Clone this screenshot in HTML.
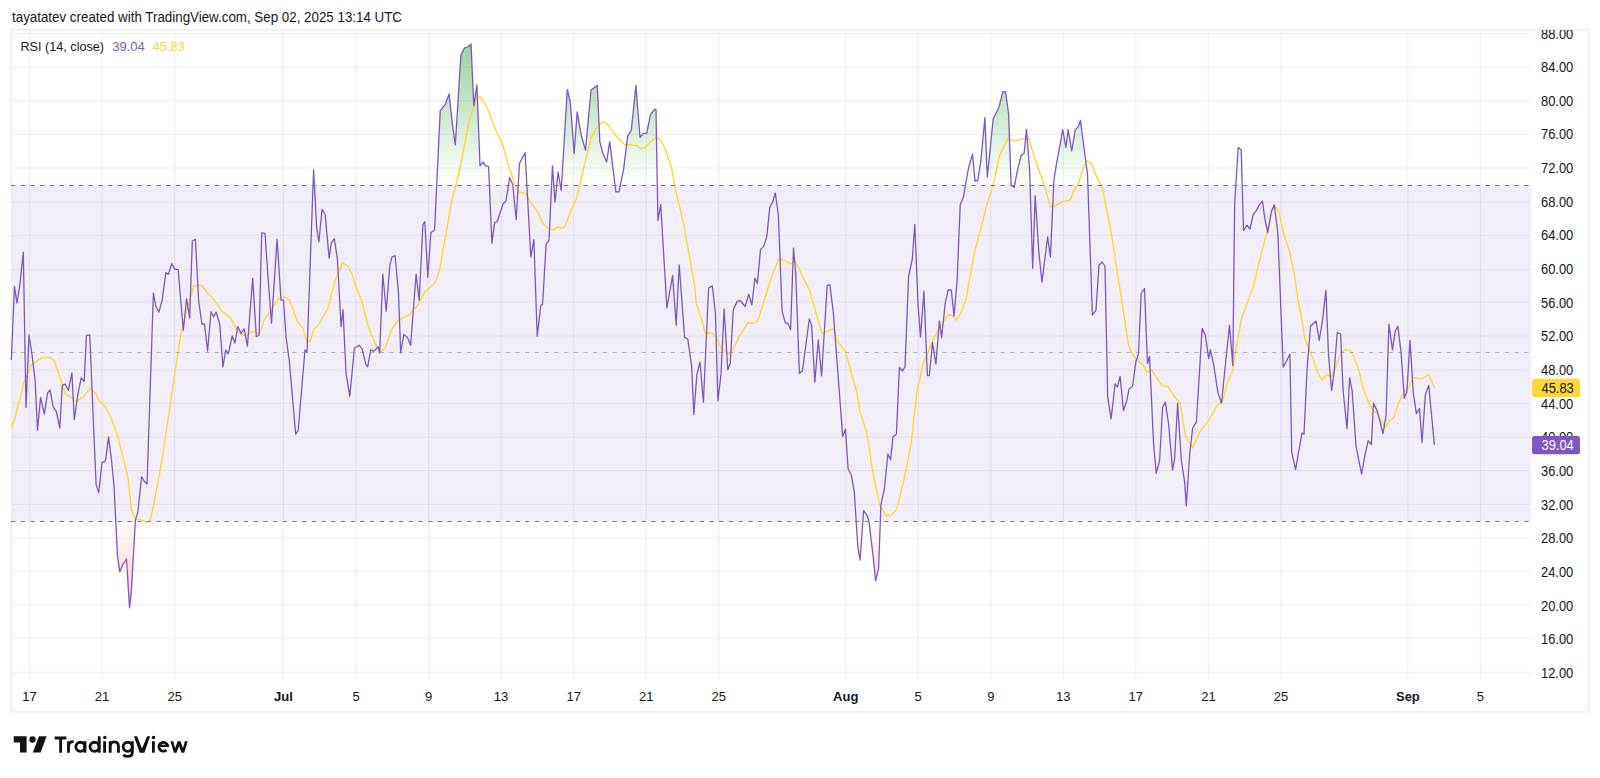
<!DOCTYPE html>
<html><head><meta charset="utf-8"><style>
html,body{margin:0;padding:0;background:#fff;}
body{width:1600px;height:778px;position:relative;overflow:hidden;font-family:"Liberation Sans",sans-serif;}
.hdr{position:absolute;left:12px;top:8px;font-size:13px;color:#131722;white-space:nowrap;}
.leg{position:absolute;left:20px;top:38px;font-size:13px;color:#131722;white-space:nowrap;}
.ax{font-family:"Liberation Sans",sans-serif;font-size:13.8px;fill:#131722;}
.tx{font-family:"Liberation Sans",sans-serif;font-size:13px;fill:#131722;}
.bold{font-weight:bold;}
.logo{position:absolute;left:0;top:0;}
</style></head><body>
<svg width="1600" height="778" viewBox="0 0 1600 778" style="position:absolute;left:0;top:0">
<rect x="12" y="184.5" width="1519" height="336.5" fill="#F2EEF9"/>
<rect x="12" y="671.70" width="1519" height="1.2" fill="#000" fill-opacity="0.055"/>
<rect x="12" y="637.50" width="1519" height="1.2" fill="#000" fill-opacity="0.055"/>
<rect x="12" y="604.00" width="1519" height="1.2" fill="#000" fill-opacity="0.055"/>
<rect x="12" y="570.60" width="1519" height="1.2" fill="#000" fill-opacity="0.055"/>
<rect x="12" y="537.20" width="1519" height="1.2" fill="#000" fill-opacity="0.055"/>
<rect x="12" y="503.80" width="1519" height="1.2" fill="#000" fill-opacity="0.055"/>
<rect x="12" y="470.00" width="1519" height="1.2" fill="#000" fill-opacity="0.055"/>
<rect x="12" y="436.60" width="1519" height="1.2" fill="#000" fill-opacity="0.055"/>
<rect x="12" y="402.70" width="1519" height="1.2" fill="#000" fill-opacity="0.055"/>
<rect x="12" y="369.10" width="1519" height="1.2" fill="#000" fill-opacity="0.055"/>
<rect x="12" y="335.40" width="1519" height="1.2" fill="#000" fill-opacity="0.055"/>
<rect x="12" y="301.60" width="1519" height="1.2" fill="#000" fill-opacity="0.055"/>
<rect x="12" y="269.20" width="1519" height="1.2" fill="#000" fill-opacity="0.055"/>
<rect x="12" y="235.10" width="1519" height="1.2" fill="#000" fill-opacity="0.055"/>
<rect x="12" y="201.70" width="1519" height="1.2" fill="#000" fill-opacity="0.055"/>
<rect x="12" y="167.40" width="1519" height="1.2" fill="#000" fill-opacity="0.055"/>
<rect x="12" y="133.80" width="1519" height="1.2" fill="#000" fill-opacity="0.055"/>
<rect x="12" y="99.90" width="1519" height="1.2" fill="#000" fill-opacity="0.055"/>
<rect x="12" y="66.70" width="1519" height="1.2" fill="#000" fill-opacity="0.055"/>
<rect x="12" y="32.75" width="1519" height="1.2" fill="#000" fill-opacity="0.055"/>
<rect x="29.00" y="30" width="1.2" height="650.8" fill="#000" fill-opacity="0.055"/>
<rect x="101.54" y="30" width="1.2" height="650.8" fill="#000" fill-opacity="0.055"/>
<rect x="174.08" y="30" width="1.2" height="650.8" fill="#000" fill-opacity="0.055"/>
<rect x="282.89" y="30" width="1.2" height="650.8" fill="#000" fill-opacity="0.055"/>
<rect x="355.43" y="30" width="1.2" height="650.8" fill="#000" fill-opacity="0.055"/>
<rect x="427.97" y="30" width="1.2" height="650.8" fill="#000" fill-opacity="0.055"/>
<rect x="500.51" y="30" width="1.2" height="650.8" fill="#000" fill-opacity="0.055"/>
<rect x="573.05" y="30" width="1.2" height="650.8" fill="#000" fill-opacity="0.055"/>
<rect x="645.59" y="30" width="1.2" height="650.8" fill="#000" fill-opacity="0.055"/>
<rect x="718.13" y="30" width="1.2" height="650.8" fill="#000" fill-opacity="0.055"/>
<rect x="845.08" y="30" width="1.2" height="650.8" fill="#000" fill-opacity="0.055"/>
<rect x="917.62" y="30" width="1.2" height="650.8" fill="#000" fill-opacity="0.055"/>
<rect x="990.16" y="30" width="1.2" height="650.8" fill="#000" fill-opacity="0.055"/>
<rect x="1062.70" y="30" width="1.2" height="650.8" fill="#000" fill-opacity="0.055"/>
<rect x="1135.24" y="30" width="1.2" height="650.8" fill="#000" fill-opacity="0.055"/>
<rect x="1207.78" y="30" width="1.2" height="650.8" fill="#000" fill-opacity="0.055"/>
<rect x="1280.32" y="30" width="1.2" height="650.8" fill="#000" fill-opacity="0.055"/>
<rect x="1407.26" y="30" width="1.2" height="650.8" fill="#000" fill-opacity="0.055"/>
<rect x="1479.80" y="30" width="1.2" height="650.8" fill="#000" fill-opacity="0.055"/>
<rect x="11.6" y="29.8" width="1577.1" height="682.1" fill="none" stroke="#000" stroke-opacity="0.075" stroke-width="1.4"/>
<defs>
<linearGradient id="gG" gradientUnits="userSpaceOnUse" x1="0" y1="-67.9" x2="0" y2="184.5"><stop offset="0" stop-color="#4CAF50" stop-opacity="1"/><stop offset="1" stop-color="#4CAF50" stop-opacity="0"/></linearGradient>
<linearGradient id="gR" gradientUnits="userSpaceOnUse" x1="0" y1="521.0" x2="0" y2="773.3"><stop offset="0" stop-color="#FF5252" stop-opacity="0"/><stop offset="1" stop-color="#FF5252" stop-opacity="1"/></linearGradient>
<clipPath id="cT"><rect x="0" y="0" width="1531" height="184.5"/></clipPath>
<clipPath id="cB"><rect x="0" y="521.0" width="1531" height="159.0"/></clipPath>
</defs>
<path d="M11.3,360.0 L14.5,286.5 L17.0,303.2 L20.0,283.9 L23.3,252.1 L26.0,407.5 L29.0,334.8 L32.1,355.3 L35.1,380.4 L37.5,430.4 L40.6,397.4 L44.3,414.2 L47.6,393.0 L50.1,390.0 L53.1,406.7 L56.4,411.7 L59.8,428.0 L62.3,385.4 L65.1,384.1 L68.4,390.4 L71.9,372.9 L74.3,419.6 L77.7,395.4 L81.2,377.9 L84.2,381.6 L86.4,335.3 L89.7,334.8 L96.1,484.4 L98.7,492.6 L102.0,462.6 L105.6,460.8 L108.5,436.9 L111.5,460.0 L114.1,487.0 L117.5,556.4 L119.8,571.8 L123.1,564.1 L126.5,559.0 L129.5,607.8 L131.3,592.4 L135.4,520.4 L137.8,512.2 L141.6,476.7 L144.2,481.3 L147.0,483.9 L153.4,293.2 L155.9,306.5 L158.9,312.2 L162.2,300.1 L165.8,272.6 L168.4,274.4 L171.7,263.6 L175.1,269.3 L178.1,269.3 L183.3,330.2 L186.6,298.8 L189.7,318.1 L192.3,241.0 L195.4,239.2 L198.7,301.4 L202.0,324.5 L204.4,323.8 L207.6,351.0 L211.0,311.7 L213.6,316.8 L216.2,312.2 L219.8,324.5 L222.9,367.0 L225.7,350.1 L228.3,353.9 L232.2,335.9 L234.9,343.1 L237.8,326.6 L241.1,333.5 L244.2,328.9 L247.4,346.3 L252.7,278.3 L256.3,336.5 L259.1,335.5 L261.7,232.8 L265.0,233.3 L268.1,278.3 L271.5,323.2 L277.1,239.2 L281.0,300.1 L283.5,300.1 L286.1,337.4 L289.3,360.9 L295.7,434.2 L298.2,430.3 L305.0,349.8 L307.0,352.4 L313.6,169.9 L316.7,227.9 L318.9,241.8 L322.0,209.4 L325.1,214.0 L329.1,258.1 L331.2,243.3 L334.3,238.7 L337.4,258.8 L341.1,326.7 L343.0,309.7 L346.0,373.0 L349.8,396.1 L354.4,348.3 L359.0,345.2 L362.1,348.9 L365.8,364.3 L367.7,366.8 L370.7,349.8 L373.8,351.4 L378.1,346.7 L379.7,352.9 L382.8,274.2 L386.2,311.2 L389.9,264.9 L392.0,257.2 L395.1,255.7 L398.5,292.7 L400.7,352.9 L403.8,334.4 L407.5,337.5 L410.6,345.2 L416.1,274.2 L419.2,300.4 L422.9,224.8 L424.8,221.7 L427.8,277.3 L430.9,232.5 L434.6,230.2 L440.2,110.9 L445.4,104.1 L449.1,93.9 L452.2,122.6 L455.3,144.8 L460.9,54.7 L464.6,47.9 L467.7,47.0 L471.0,43.9 L473.8,105.6 L476.9,84.9 L480.0,165.8 L483.1,162.1 L485.6,165.8 L488.6,166.4 L491.9,243.4 L494.5,223.1 L497.3,221.2 L503.1,203.9 L506.0,201.0 L509.6,177.5 L512.7,184.3 L516.2,219.5 L519.5,163.3 L525.1,152.8 L530.8,256.8 L533.9,239.7 L537.2,336.4 L540.7,306.0 L542.6,304.0 L546.1,244.3 L549.0,240.5 L552.5,165.8 L555.0,202.2 L558.1,172.0 L561.2,190.5 L567.3,89.3 L570.4,102.5 L574.1,153.5 L577.2,111.8 L581.2,134.9 L585.5,150.3 L591.0,90.0 L597.3,85.4 L599.8,141.6 L602.9,153.3 L606.6,162.0 L609.7,141.6 L615.9,191.9 L619.0,191.9 L623.6,169.4 L627.6,136.4 L631.3,130.2 L635.9,85.4 L640.0,137.3 L643.6,133.3 L646.7,133.3 L650.4,114.8 L654.4,109.5 L656.0,109.5 L657.9,220.6 L660.7,204.5 L666.9,308.0 L672.6,275.5 L676.2,325.1 L679.2,265.0 L684.6,337.4 L687.7,339.0 L691.7,366.7 L693.8,414.6 L696.9,374.4 L700.0,362.1 L703.4,402.2 L708.6,288.0 L712.3,285.9 L715.4,312.7 L717.9,400.7 L721.0,374.4 L724.1,309.0 L727.8,369.8 L730.2,363.6 L733.3,309.6 L737.0,301.9 L740.1,300.4 L745.1,306.5 L748.8,294.2 L751.9,305.0 L754.9,278.1 L757.4,283.4 L760.5,249.4 L763.6,246.4 L766.7,237.1 L769.8,207.2 L772.8,201.6 L775.3,193.0 L778.4,215.5 L782.1,311.2 L785.2,322.5 L788.1,323.9 L790.6,329.7 L793.5,247.9 L795.7,272.6 L799.4,373.5 L802.5,370.8 L809.3,319.0 L811.7,325.6 L814.8,382.1 L818.3,340.0 L821.6,376.0 L827.2,285.4 L829.9,284.8 L833.4,313.2 L842.7,436.6 L845.5,429.0 L848.1,469.0 L851.3,474.8 L854.3,492.2 L857.8,546.6 L860.1,560.0 L863.6,510.7 L867.0,515.3 L868.9,521.1 L872.8,553.5 L875.6,580.8 L878.6,568.6 L880.9,504.9 L884.4,488.7 L887.9,454.0 L890.6,459.8 L893.0,436.6 L896.4,434.3 L899.4,367.5 L902.5,371.0 L905.0,366.6 L908.6,276.5 L912.3,259.0 L914.8,224.4 L917.9,302.3 L920.5,337.1 L923.9,291.2 L927.4,375.7 L929.3,375.7 L932.5,342.5 L935.9,364.1 L939.4,320.9 L941.6,337.9 L945.2,303.2 L948.2,289.8 L951.3,290.1 L954.0,316.0 L957.1,280.6 L960.2,205.0 L963.3,197.3 L968.5,168.0 L972.5,154.1 L975.0,181.2 L977.8,180.3 L980.9,160.2 L984.9,117.7 L987.3,177.2 L993.2,118.6 L998.8,107.8 L1002.8,91.7 L1005.6,91.7 L1008.6,114.0 L1011.1,184.9 L1014.2,187.4 L1017.3,171.0 L1021.0,155.6 L1024.1,153.5 L1026.5,129.4 L1029.6,169.5 L1032.7,268.3 L1035.2,195.7 L1038.9,252.8 L1042.0,282.2 L1047.6,237.0 L1050.4,257.0 L1053.9,179.9 L1056.7,162.5 L1059.7,146.3 L1062.7,129.6 L1065.9,147.5 L1068.2,129.6 L1071.7,150.9 L1075.2,130.1 L1078.2,126.6 L1080.5,120.4 L1083.5,144.0 L1087.5,174.1 L1092.4,315.2 L1096.0,310.2 L1099.0,265.0 L1102.2,262.0 L1105.0,266.0 L1107.7,397.2 L1111.1,418.9 L1115.1,383.8 L1117.4,387.1 L1120.1,376.4 L1123.5,410.5 L1126.8,400.5 L1129.1,388.8 L1132.5,386.5 L1135.8,362.0 L1138.5,353.7 L1141.2,293.5 L1144.5,288.5 L1147.5,363.7 L1149.5,356.4 L1153.6,444.0 L1156.2,473.4 L1159.6,460.7 L1162.6,407.2 L1165.3,402.2 L1168.6,423.9 L1172.6,470.1 L1174.6,459.0 L1177.6,403.2 L1181.3,460.0 L1184.7,482.4 L1186.3,505.9 L1189.7,454.0 L1192.7,427.9 L1196.4,422.2 L1202.1,328.6 L1205.4,335.3 L1208.7,358.7 L1210.4,349.7 L1213.8,365.4 L1217.8,392.1 L1221.5,403.2 L1225.5,363.7 L1229.5,325.3 L1232.8,365.4 L1234.7,202.5 L1238.2,147.4 L1241.2,149.7 L1243.5,230.7 L1247.0,225.2 L1250.0,229.1 L1253.2,214.5 L1256.3,210.6 L1259.3,204.8 L1262.5,201.3 L1264.8,218.7 L1267.8,232.6 L1271.3,211.8 L1274.3,204.8 L1277.8,232.6 L1283.2,366.9 L1286.6,361.0 L1289.9,354.0 L1291.7,452.2 L1295.6,469.7 L1298.7,451.7 L1302.0,433.0 L1304.0,434.2 L1307.1,368.7 L1310.5,326.3 L1316.1,321.1 L1319.2,340.4 L1322.6,319.8 L1325.9,290.3 L1328.5,354.6 L1331.6,390.5 L1334.1,372.5 L1337.2,332.7 L1340.6,334.0 L1343.1,390.5 L1347.0,428.6 L1349.6,377.7 L1352.1,390.5 L1356.0,445.8 L1361.6,474.1 L1365.0,454.8 L1368.1,440.7 L1371.4,444.5 L1373.5,403.4 L1377.3,411.1 L1383.0,433.7 L1386.1,415.0 L1388.9,324.2 L1392.5,349.9 L1395.3,330.9 L1397.9,326.3 L1401.0,352.0 L1404.3,398.3 L1406.9,391.8 L1410.0,340.4 L1413.3,393.1 L1416.4,413.7 L1419.5,408.5 L1422.0,442.5 L1425.4,394.4 L1428.7,385.4 L1434.4,445.0 L1434.4,352.7 L11.3,352.7 Z" fill="url(#gG)" clip-path="url(#cT)"/>
<path d="M11.3,360.0 L14.5,286.5 L17.0,303.2 L20.0,283.9 L23.3,252.1 L26.0,407.5 L29.0,334.8 L32.1,355.3 L35.1,380.4 L37.5,430.4 L40.6,397.4 L44.3,414.2 L47.6,393.0 L50.1,390.0 L53.1,406.7 L56.4,411.7 L59.8,428.0 L62.3,385.4 L65.1,384.1 L68.4,390.4 L71.9,372.9 L74.3,419.6 L77.7,395.4 L81.2,377.9 L84.2,381.6 L86.4,335.3 L89.7,334.8 L96.1,484.4 L98.7,492.6 L102.0,462.6 L105.6,460.8 L108.5,436.9 L111.5,460.0 L114.1,487.0 L117.5,556.4 L119.8,571.8 L123.1,564.1 L126.5,559.0 L129.5,607.8 L131.3,592.4 L135.4,520.4 L137.8,512.2 L141.6,476.7 L144.2,481.3 L147.0,483.9 L153.4,293.2 L155.9,306.5 L158.9,312.2 L162.2,300.1 L165.8,272.6 L168.4,274.4 L171.7,263.6 L175.1,269.3 L178.1,269.3 L183.3,330.2 L186.6,298.8 L189.7,318.1 L192.3,241.0 L195.4,239.2 L198.7,301.4 L202.0,324.5 L204.4,323.8 L207.6,351.0 L211.0,311.7 L213.6,316.8 L216.2,312.2 L219.8,324.5 L222.9,367.0 L225.7,350.1 L228.3,353.9 L232.2,335.9 L234.9,343.1 L237.8,326.6 L241.1,333.5 L244.2,328.9 L247.4,346.3 L252.7,278.3 L256.3,336.5 L259.1,335.5 L261.7,232.8 L265.0,233.3 L268.1,278.3 L271.5,323.2 L277.1,239.2 L281.0,300.1 L283.5,300.1 L286.1,337.4 L289.3,360.9 L295.7,434.2 L298.2,430.3 L305.0,349.8 L307.0,352.4 L313.6,169.9 L316.7,227.9 L318.9,241.8 L322.0,209.4 L325.1,214.0 L329.1,258.1 L331.2,243.3 L334.3,238.7 L337.4,258.8 L341.1,326.7 L343.0,309.7 L346.0,373.0 L349.8,396.1 L354.4,348.3 L359.0,345.2 L362.1,348.9 L365.8,364.3 L367.7,366.8 L370.7,349.8 L373.8,351.4 L378.1,346.7 L379.7,352.9 L382.8,274.2 L386.2,311.2 L389.9,264.9 L392.0,257.2 L395.1,255.7 L398.5,292.7 L400.7,352.9 L403.8,334.4 L407.5,337.5 L410.6,345.2 L416.1,274.2 L419.2,300.4 L422.9,224.8 L424.8,221.7 L427.8,277.3 L430.9,232.5 L434.6,230.2 L440.2,110.9 L445.4,104.1 L449.1,93.9 L452.2,122.6 L455.3,144.8 L460.9,54.7 L464.6,47.9 L467.7,47.0 L471.0,43.9 L473.8,105.6 L476.9,84.9 L480.0,165.8 L483.1,162.1 L485.6,165.8 L488.6,166.4 L491.9,243.4 L494.5,223.1 L497.3,221.2 L503.1,203.9 L506.0,201.0 L509.6,177.5 L512.7,184.3 L516.2,219.5 L519.5,163.3 L525.1,152.8 L530.8,256.8 L533.9,239.7 L537.2,336.4 L540.7,306.0 L542.6,304.0 L546.1,244.3 L549.0,240.5 L552.5,165.8 L555.0,202.2 L558.1,172.0 L561.2,190.5 L567.3,89.3 L570.4,102.5 L574.1,153.5 L577.2,111.8 L581.2,134.9 L585.5,150.3 L591.0,90.0 L597.3,85.4 L599.8,141.6 L602.9,153.3 L606.6,162.0 L609.7,141.6 L615.9,191.9 L619.0,191.9 L623.6,169.4 L627.6,136.4 L631.3,130.2 L635.9,85.4 L640.0,137.3 L643.6,133.3 L646.7,133.3 L650.4,114.8 L654.4,109.5 L656.0,109.5 L657.9,220.6 L660.7,204.5 L666.9,308.0 L672.6,275.5 L676.2,325.1 L679.2,265.0 L684.6,337.4 L687.7,339.0 L691.7,366.7 L693.8,414.6 L696.9,374.4 L700.0,362.1 L703.4,402.2 L708.6,288.0 L712.3,285.9 L715.4,312.7 L717.9,400.7 L721.0,374.4 L724.1,309.0 L727.8,369.8 L730.2,363.6 L733.3,309.6 L737.0,301.9 L740.1,300.4 L745.1,306.5 L748.8,294.2 L751.9,305.0 L754.9,278.1 L757.4,283.4 L760.5,249.4 L763.6,246.4 L766.7,237.1 L769.8,207.2 L772.8,201.6 L775.3,193.0 L778.4,215.5 L782.1,311.2 L785.2,322.5 L788.1,323.9 L790.6,329.7 L793.5,247.9 L795.7,272.6 L799.4,373.5 L802.5,370.8 L809.3,319.0 L811.7,325.6 L814.8,382.1 L818.3,340.0 L821.6,376.0 L827.2,285.4 L829.9,284.8 L833.4,313.2 L842.7,436.6 L845.5,429.0 L848.1,469.0 L851.3,474.8 L854.3,492.2 L857.8,546.6 L860.1,560.0 L863.6,510.7 L867.0,515.3 L868.9,521.1 L872.8,553.5 L875.6,580.8 L878.6,568.6 L880.9,504.9 L884.4,488.7 L887.9,454.0 L890.6,459.8 L893.0,436.6 L896.4,434.3 L899.4,367.5 L902.5,371.0 L905.0,366.6 L908.6,276.5 L912.3,259.0 L914.8,224.4 L917.9,302.3 L920.5,337.1 L923.9,291.2 L927.4,375.7 L929.3,375.7 L932.5,342.5 L935.9,364.1 L939.4,320.9 L941.6,337.9 L945.2,303.2 L948.2,289.8 L951.3,290.1 L954.0,316.0 L957.1,280.6 L960.2,205.0 L963.3,197.3 L968.5,168.0 L972.5,154.1 L975.0,181.2 L977.8,180.3 L980.9,160.2 L984.9,117.7 L987.3,177.2 L993.2,118.6 L998.8,107.8 L1002.8,91.7 L1005.6,91.7 L1008.6,114.0 L1011.1,184.9 L1014.2,187.4 L1017.3,171.0 L1021.0,155.6 L1024.1,153.5 L1026.5,129.4 L1029.6,169.5 L1032.7,268.3 L1035.2,195.7 L1038.9,252.8 L1042.0,282.2 L1047.6,237.0 L1050.4,257.0 L1053.9,179.9 L1056.7,162.5 L1059.7,146.3 L1062.7,129.6 L1065.9,147.5 L1068.2,129.6 L1071.7,150.9 L1075.2,130.1 L1078.2,126.6 L1080.5,120.4 L1083.5,144.0 L1087.5,174.1 L1092.4,315.2 L1096.0,310.2 L1099.0,265.0 L1102.2,262.0 L1105.0,266.0 L1107.7,397.2 L1111.1,418.9 L1115.1,383.8 L1117.4,387.1 L1120.1,376.4 L1123.5,410.5 L1126.8,400.5 L1129.1,388.8 L1132.5,386.5 L1135.8,362.0 L1138.5,353.7 L1141.2,293.5 L1144.5,288.5 L1147.5,363.7 L1149.5,356.4 L1153.6,444.0 L1156.2,473.4 L1159.6,460.7 L1162.6,407.2 L1165.3,402.2 L1168.6,423.9 L1172.6,470.1 L1174.6,459.0 L1177.6,403.2 L1181.3,460.0 L1184.7,482.4 L1186.3,505.9 L1189.7,454.0 L1192.7,427.9 L1196.4,422.2 L1202.1,328.6 L1205.4,335.3 L1208.7,358.7 L1210.4,349.7 L1213.8,365.4 L1217.8,392.1 L1221.5,403.2 L1225.5,363.7 L1229.5,325.3 L1232.8,365.4 L1234.7,202.5 L1238.2,147.4 L1241.2,149.7 L1243.5,230.7 L1247.0,225.2 L1250.0,229.1 L1253.2,214.5 L1256.3,210.6 L1259.3,204.8 L1262.5,201.3 L1264.8,218.7 L1267.8,232.6 L1271.3,211.8 L1274.3,204.8 L1277.8,232.6 L1283.2,366.9 L1286.6,361.0 L1289.9,354.0 L1291.7,452.2 L1295.6,469.7 L1298.7,451.7 L1302.0,433.0 L1304.0,434.2 L1307.1,368.7 L1310.5,326.3 L1316.1,321.1 L1319.2,340.4 L1322.6,319.8 L1325.9,290.3 L1328.5,354.6 L1331.6,390.5 L1334.1,372.5 L1337.2,332.7 L1340.6,334.0 L1343.1,390.5 L1347.0,428.6 L1349.6,377.7 L1352.1,390.5 L1356.0,445.8 L1361.6,474.1 L1365.0,454.8 L1368.1,440.7 L1371.4,444.5 L1373.5,403.4 L1377.3,411.1 L1383.0,433.7 L1386.1,415.0 L1388.9,324.2 L1392.5,349.9 L1395.3,330.9 L1397.9,326.3 L1401.0,352.0 L1404.3,398.3 L1406.9,391.8 L1410.0,340.4 L1413.3,393.1 L1416.4,413.7 L1419.5,408.5 L1422.0,442.5 L1425.4,394.4 L1428.7,385.4 L1434.4,445.0 L1434.4,352.7 L11.3,352.7 Z" fill="url(#gR)" clip-path="url(#cB)"/>
<path d="M11.3,428.0 L14.5,420.0 L23.8,382.9 L31.3,365.4 L37.6,360.3 L42.6,357.8 L49.6,357.1 L53.9,360.3 L57.6,370.4 L62.6,385.4 L65.6,394.2 L70.2,396.7 L76.4,401.7 L82.7,397.4 L90.2,387.9 L95.2,392.9 L99.0,400.4 L105.2,406.7 L110.8,417.0 L117.5,435.6 L123.1,457.4 L128.3,479.3 L131.3,510.1 L135.4,519.1 L141.1,519.9 L146.8,522.5 L150.1,520.4 L153.4,506.3 L157.0,487.0 L160.1,470.3 L163.5,450.0 L176.9,360.0 L180.7,334.8 L187.1,309.1 L193.6,286.5 L198.7,284.7 L202.6,286.7 L207.7,293.2 L214.1,300.1 L222.4,311.7 L230.8,318.1 L237.3,331.0 L241.1,334.3 L246.3,335.6 L253.2,331.0 L259.1,334.3 L264.3,319.4 L270.7,310.4 L278.4,298.8 L284.8,297.0 L289.2,299.6 L297.7,322.0 L302.8,328.4 L307.2,342.0 L309.6,342.1 L314.3,328.2 L317.3,326.7 L328.1,308.1 L335.2,280.4 L342.7,262.5 L348.2,266.5 L352.8,275.7 L355.9,286.5 L362.1,302.0 L368.3,326.7 L379.1,352.9 L385.2,348.3 L391.4,329.8 L397.6,320.5 L409.9,314.3 L417.7,305.1 L425.4,291.2 L434.6,283.5 L439.3,271.1 L445.4,237.2 L451.6,202.0 L459.6,170.0 L468.6,124.1 L476.3,97.9 L480.0,96.4 L487.1,107.2 L494.8,128.1 L502.5,144.2 L509.6,168.9 L518.0,192.0 L525.7,193.6 L531.9,204.4 L537.8,212.0 L542.6,223.1 L549.4,228.9 L554.2,229.9 L558.0,226.6 L561.9,228.5 L564.8,227.0 L570.6,211.6 L576.6,198.2 L582.8,172.0 L585.0,162.6 L591.2,137.9 L598.0,125.6 L603.5,121.5 L608.1,124.9 L612.8,131.7 L619.0,139.4 L625.1,145.0 L631.3,144.7 L636.9,145.6 L640.6,148.7 L645.2,147.8 L649.8,142.5 L656.0,137.3 L660.6,140.4 L665.2,148.7 L671.4,167.2 L676.0,191.9 L683.8,224.3 L690.1,260.2 L694.6,286.0 L696.3,303.5 L700.9,317.3 L705.6,333.7 L711.7,332.8 L716.4,337.4 L721.0,348.2 L729.6,354.4 L733.3,349.1 L739.5,335.9 L748.1,322.6 L753.4,323.5 L758.0,320.4 L765.7,295.7 L771.9,275.7 L779.0,258.7 L784.3,260.2 L790.4,263.9 L795.1,260.9 L800.0,271.0 L809.7,290.6 L822.0,333.8 L826.2,331.7 L833.4,328.6 L837.5,341.0 L845.7,352.3 L857.0,393.5 L860.1,412.0 L867.0,433.1 L872.8,472.5 L879.8,504.9 L885.6,515.3 L890.2,516.0 L896.7,509.5 L904.1,479.4 L911.0,444.7 L916.7,393.5 L922.9,364.7 L932.8,340.2 L939.8,327.1 L948.2,314.4 L952.1,315.5 L956.7,320.0 L961.4,311.7 L966.0,299.3 L974.1,254.4 L986.4,206.5 L994.1,181.9 L999.4,155.6 L1008.0,138.6 L1014.8,141.1 L1021.9,138.6 L1029.0,139.3 L1035.8,161.8 L1044.6,185.6 L1050.4,206.9 L1053.9,206.5 L1063.1,201.4 L1070.1,200.0 L1074.7,189.1 L1078.2,184.5 L1083.5,167.1 L1087.5,160.6 L1091.4,163.7 L1095.6,174.1 L1102.5,189.1 L1109.4,222.7 L1114.1,250.5 L1116.8,270.1 L1121.8,300.2 L1128.5,345.3 L1133.5,356.4 L1143.5,365.4 L1146.9,372.1 L1151.9,370.4 L1161.9,385.5 L1167.9,386.5 L1174.6,396.5 L1180.3,403.8 L1185.3,435.6 L1192.7,448.0 L1200.4,430.6 L1208.7,420.6 L1217.1,405.5 L1222.1,402.2 L1228.8,378.8 L1232.2,372.1 L1235.2,353.7 L1241.2,320.0 L1252.8,288.1 L1259.7,260.4 L1266.7,232.6 L1272.5,209.0 L1275.9,207.1 L1278.7,211.8 L1284.0,234.9 L1289.8,252.3 L1294.4,274.3 L1298.1,300.6 L1302.0,319.8 L1304.6,337.8 L1308.4,348.1 L1313.6,359.7 L1316.9,371.3 L1320.0,377.2 L1322.6,379.7 L1326.4,374.6 L1331.6,376.4 L1336.7,364.8 L1341.3,353.3 L1345.7,349.4 L1349.6,349.9 L1353.4,355.8 L1358.5,368.7 L1362.4,385.4 L1368.8,403.4 L1372.7,409.8 L1377.3,413.7 L1380.9,420.1 L1385.0,427.8 L1389.4,420.9 L1393.8,417.5 L1398.4,403.4 L1403.5,393.1 L1408.7,386.7 L1413.3,377.7 L1421.5,379.0 L1428.7,374.6 L1434.4,387.8" fill="none" stroke="#FDD835" stroke-width="1.45" stroke-linejoin="round"/>
<path d="M11.3,360.0 L14.5,286.5 L17.0,303.2 L20.0,283.9 L23.3,252.1 L26.0,407.5 L29.0,334.8 L32.1,355.3 L35.1,380.4 L37.5,430.4 L40.6,397.4 L44.3,414.2 L47.6,393.0 L50.1,390.0 L53.1,406.7 L56.4,411.7 L59.8,428.0 L62.3,385.4 L65.1,384.1 L68.4,390.4 L71.9,372.9 L74.3,419.6 L77.7,395.4 L81.2,377.9 L84.2,381.6 L86.4,335.3 L89.7,334.8 L96.1,484.4 L98.7,492.6 L102.0,462.6 L105.6,460.8 L108.5,436.9 L111.5,460.0 L114.1,487.0 L117.5,556.4 L119.8,571.8 L123.1,564.1 L126.5,559.0 L129.5,607.8 L131.3,592.4 L135.4,520.4 L137.8,512.2 L141.6,476.7 L144.2,481.3 L147.0,483.9 L153.4,293.2 L155.9,306.5 L158.9,312.2 L162.2,300.1 L165.8,272.6 L168.4,274.4 L171.7,263.6 L175.1,269.3 L178.1,269.3 L183.3,330.2 L186.6,298.8 L189.7,318.1 L192.3,241.0 L195.4,239.2 L198.7,301.4 L202.0,324.5 L204.4,323.8 L207.6,351.0 L211.0,311.7 L213.6,316.8 L216.2,312.2 L219.8,324.5 L222.9,367.0 L225.7,350.1 L228.3,353.9 L232.2,335.9 L234.9,343.1 L237.8,326.6 L241.1,333.5 L244.2,328.9 L247.4,346.3 L252.7,278.3 L256.3,336.5 L259.1,335.5 L261.7,232.8 L265.0,233.3 L268.1,278.3 L271.5,323.2 L277.1,239.2 L281.0,300.1 L283.5,300.1 L286.1,337.4 L289.3,360.9 L295.7,434.2 L298.2,430.3 L305.0,349.8 L307.0,352.4 L313.6,169.9 L316.7,227.9 L318.9,241.8 L322.0,209.4 L325.1,214.0 L329.1,258.1 L331.2,243.3 L334.3,238.7 L337.4,258.8 L341.1,326.7 L343.0,309.7 L346.0,373.0 L349.8,396.1 L354.4,348.3 L359.0,345.2 L362.1,348.9 L365.8,364.3 L367.7,366.8 L370.7,349.8 L373.8,351.4 L378.1,346.7 L379.7,352.9 L382.8,274.2 L386.2,311.2 L389.9,264.9 L392.0,257.2 L395.1,255.7 L398.5,292.7 L400.7,352.9 L403.8,334.4 L407.5,337.5 L410.6,345.2 L416.1,274.2 L419.2,300.4 L422.9,224.8 L424.8,221.7 L427.8,277.3 L430.9,232.5 L434.6,230.2 L440.2,110.9 L445.4,104.1 L449.1,93.9 L452.2,122.6 L455.3,144.8 L460.9,54.7 L464.6,47.9 L467.7,47.0 L471.0,43.9 L473.8,105.6 L476.9,84.9 L480.0,165.8 L483.1,162.1 L485.6,165.8 L488.6,166.4 L491.9,243.4 L494.5,223.1 L497.3,221.2 L503.1,203.9 L506.0,201.0 L509.6,177.5 L512.7,184.3 L516.2,219.5 L519.5,163.3 L525.1,152.8 L530.8,256.8 L533.9,239.7 L537.2,336.4 L540.7,306.0 L542.6,304.0 L546.1,244.3 L549.0,240.5 L552.5,165.8 L555.0,202.2 L558.1,172.0 L561.2,190.5 L567.3,89.3 L570.4,102.5 L574.1,153.5 L577.2,111.8 L581.2,134.9 L585.5,150.3 L591.0,90.0 L597.3,85.4 L599.8,141.6 L602.9,153.3 L606.6,162.0 L609.7,141.6 L615.9,191.9 L619.0,191.9 L623.6,169.4 L627.6,136.4 L631.3,130.2 L635.9,85.4 L640.0,137.3 L643.6,133.3 L646.7,133.3 L650.4,114.8 L654.4,109.5 L656.0,109.5 L657.9,220.6 L660.7,204.5 L666.9,308.0 L672.6,275.5 L676.2,325.1 L679.2,265.0 L684.6,337.4 L687.7,339.0 L691.7,366.7 L693.8,414.6 L696.9,374.4 L700.0,362.1 L703.4,402.2 L708.6,288.0 L712.3,285.9 L715.4,312.7 L717.9,400.7 L721.0,374.4 L724.1,309.0 L727.8,369.8 L730.2,363.6 L733.3,309.6 L737.0,301.9 L740.1,300.4 L745.1,306.5 L748.8,294.2 L751.9,305.0 L754.9,278.1 L757.4,283.4 L760.5,249.4 L763.6,246.4 L766.7,237.1 L769.8,207.2 L772.8,201.6 L775.3,193.0 L778.4,215.5 L782.1,311.2 L785.2,322.5 L788.1,323.9 L790.6,329.7 L793.5,247.9 L795.7,272.6 L799.4,373.5 L802.5,370.8 L809.3,319.0 L811.7,325.6 L814.8,382.1 L818.3,340.0 L821.6,376.0 L827.2,285.4 L829.9,284.8 L833.4,313.2 L842.7,436.6 L845.5,429.0 L848.1,469.0 L851.3,474.8 L854.3,492.2 L857.8,546.6 L860.1,560.0 L863.6,510.7 L867.0,515.3 L868.9,521.1 L872.8,553.5 L875.6,580.8 L878.6,568.6 L880.9,504.9 L884.4,488.7 L887.9,454.0 L890.6,459.8 L893.0,436.6 L896.4,434.3 L899.4,367.5 L902.5,371.0 L905.0,366.6 L908.6,276.5 L912.3,259.0 L914.8,224.4 L917.9,302.3 L920.5,337.1 L923.9,291.2 L927.4,375.7 L929.3,375.7 L932.5,342.5 L935.9,364.1 L939.4,320.9 L941.6,337.9 L945.2,303.2 L948.2,289.8 L951.3,290.1 L954.0,316.0 L957.1,280.6 L960.2,205.0 L963.3,197.3 L968.5,168.0 L972.5,154.1 L975.0,181.2 L977.8,180.3 L980.9,160.2 L984.9,117.7 L987.3,177.2 L993.2,118.6 L998.8,107.8 L1002.8,91.7 L1005.6,91.7 L1008.6,114.0 L1011.1,184.9 L1014.2,187.4 L1017.3,171.0 L1021.0,155.6 L1024.1,153.5 L1026.5,129.4 L1029.6,169.5 L1032.7,268.3 L1035.2,195.7 L1038.9,252.8 L1042.0,282.2 L1047.6,237.0 L1050.4,257.0 L1053.9,179.9 L1056.7,162.5 L1059.7,146.3 L1062.7,129.6 L1065.9,147.5 L1068.2,129.6 L1071.7,150.9 L1075.2,130.1 L1078.2,126.6 L1080.5,120.4 L1083.5,144.0 L1087.5,174.1 L1092.4,315.2 L1096.0,310.2 L1099.0,265.0 L1102.2,262.0 L1105.0,266.0 L1107.7,397.2 L1111.1,418.9 L1115.1,383.8 L1117.4,387.1 L1120.1,376.4 L1123.5,410.5 L1126.8,400.5 L1129.1,388.8 L1132.5,386.5 L1135.8,362.0 L1138.5,353.7 L1141.2,293.5 L1144.5,288.5 L1147.5,363.7 L1149.5,356.4 L1153.6,444.0 L1156.2,473.4 L1159.6,460.7 L1162.6,407.2 L1165.3,402.2 L1168.6,423.9 L1172.6,470.1 L1174.6,459.0 L1177.6,403.2 L1181.3,460.0 L1184.7,482.4 L1186.3,505.9 L1189.7,454.0 L1192.7,427.9 L1196.4,422.2 L1202.1,328.6 L1205.4,335.3 L1208.7,358.7 L1210.4,349.7 L1213.8,365.4 L1217.8,392.1 L1221.5,403.2 L1225.5,363.7 L1229.5,325.3 L1232.8,365.4 L1234.7,202.5 L1238.2,147.4 L1241.2,149.7 L1243.5,230.7 L1247.0,225.2 L1250.0,229.1 L1253.2,214.5 L1256.3,210.6 L1259.3,204.8 L1262.5,201.3 L1264.8,218.7 L1267.8,232.6 L1271.3,211.8 L1274.3,204.8 L1277.8,232.6 L1283.2,366.9 L1286.6,361.0 L1289.9,354.0 L1291.7,452.2 L1295.6,469.7 L1298.7,451.7 L1302.0,433.0 L1304.0,434.2 L1307.1,368.7 L1310.5,326.3 L1316.1,321.1 L1319.2,340.4 L1322.6,319.8 L1325.9,290.3 L1328.5,354.6 L1331.6,390.5 L1334.1,372.5 L1337.2,332.7 L1340.6,334.0 L1343.1,390.5 L1347.0,428.6 L1349.6,377.7 L1352.1,390.5 L1356.0,445.8 L1361.6,474.1 L1365.0,454.8 L1368.1,440.7 L1371.4,444.5 L1373.5,403.4 L1377.3,411.1 L1383.0,433.7 L1386.1,415.0 L1388.9,324.2 L1392.5,349.9 L1395.3,330.9 L1397.9,326.3 L1401.0,352.0 L1404.3,398.3 L1406.9,391.8 L1410.0,340.4 L1413.3,393.1 L1416.4,413.7 L1419.5,408.5 L1422.0,442.5 L1425.4,394.4 L1428.7,385.4 L1434.4,445.0" fill="none" stroke="#7E57C2" stroke-width="1.3" stroke-linejoin="round"/>
<clipPath id="cAx"><rect x="1531" y="30" width="58" height="651"/></clipPath>
<line x1="11" y1="185.5" x2="1531" y2="185.5" stroke="#787B86" stroke-opacity="1" stroke-width="1" stroke-dasharray="4.4 5.3"/>
<line x1="11" y1="352.5" x2="1531" y2="352.5" stroke="#787B86" stroke-opacity="0.5" stroke-width="1" stroke-dasharray="4.4 5.3"/>
<line x1="11" y1="521.5" x2="1531" y2="521.5" stroke="#787B86" stroke-opacity="1" stroke-width="1" stroke-dasharray="4.4 5.3"/>
<text x="1541" y="677.8" class="ax" clip-path="url(#cAx)" textLength="32.3" lengthAdjust="spacingAndGlyphs">12.00</text>
<text x="1541" y="644.2" class="ax" clip-path="url(#cAx)" textLength="32.3" lengthAdjust="spacingAndGlyphs">16.00</text>
<text x="1541" y="610.5" class="ax" clip-path="url(#cAx)" textLength="32.3" lengthAdjust="spacingAndGlyphs">20.00</text>
<text x="1541" y="576.9" class="ax" clip-path="url(#cAx)" textLength="32.3" lengthAdjust="spacingAndGlyphs">24.00</text>
<text x="1541" y="543.2" class="ax" clip-path="url(#cAx)" textLength="32.3" lengthAdjust="spacingAndGlyphs">28.00</text>
<text x="1541" y="509.6" class="ax" clip-path="url(#cAx)" textLength="32.3" lengthAdjust="spacingAndGlyphs">32.00</text>
<text x="1541" y="475.9" class="ax" clip-path="url(#cAx)" textLength="32.3" lengthAdjust="spacingAndGlyphs">36.00</text>
<text x="1541" y="442.3" class="ax" clip-path="url(#cAx)" textLength="32.3" lengthAdjust="spacingAndGlyphs">40.00</text>
<text x="1541" y="408.6" class="ax" clip-path="url(#cAx)" textLength="32.3" lengthAdjust="spacingAndGlyphs">44.00</text>
<text x="1541" y="375.0" class="ax" clip-path="url(#cAx)" textLength="32.3" lengthAdjust="spacingAndGlyphs">48.00</text>
<text x="1541" y="341.3" class="ax" clip-path="url(#cAx)" textLength="32.3" lengthAdjust="spacingAndGlyphs">52.00</text>
<text x="1541" y="307.7" class="ax" clip-path="url(#cAx)" textLength="32.3" lengthAdjust="spacingAndGlyphs">56.00</text>
<text x="1541" y="274.0" class="ax" clip-path="url(#cAx)" textLength="32.3" lengthAdjust="spacingAndGlyphs">60.00</text>
<text x="1541" y="240.4" class="ax" clip-path="url(#cAx)" textLength="32.3" lengthAdjust="spacingAndGlyphs">64.00</text>
<text x="1541" y="206.7" class="ax" clip-path="url(#cAx)" textLength="32.3" lengthAdjust="spacingAndGlyphs">68.00</text>
<text x="1541" y="173.1" class="ax" clip-path="url(#cAx)" textLength="32.3" lengthAdjust="spacingAndGlyphs">72.00</text>
<text x="1541" y="139.4" class="ax" clip-path="url(#cAx)" textLength="32.3" lengthAdjust="spacingAndGlyphs">76.00</text>
<text x="1541" y="105.8" class="ax" clip-path="url(#cAx)" textLength="32.3" lengthAdjust="spacingAndGlyphs">80.00</text>
<text x="1541" y="72.1" class="ax" clip-path="url(#cAx)" textLength="32.3" lengthAdjust="spacingAndGlyphs">84.00</text>
<text x="1541" y="38.5" class="ax" clip-path="url(#cAx)" textLength="32.3" lengthAdjust="spacingAndGlyphs">88.00</text>
<rect x="1532" y="378.8" width="48" height="18.4" rx="2.5" fill="#FDD835"/>
<text x="1541.5" y="392.9" class="ax" style="fill:#131722" textLength="32.3" lengthAdjust="spacingAndGlyphs">45.83</text>
<rect x="1532" y="435.9" width="48" height="18.4" rx="2.5" fill="#7E57C2"/>
<text x="1541.5" y="450.0" class="ax" style="fill:#ffffff" textLength="32.3" lengthAdjust="spacingAndGlyphs">39.04</text>
<text x="29.6" y="700.9" text-anchor="middle" class="tx">17</text>
<text x="102.1" y="700.9" text-anchor="middle" class="tx">21</text>
<text x="174.7" y="700.9" text-anchor="middle" class="tx">25</text>
<text x="283.5" y="700.9" text-anchor="middle" class="tx bold">Jul</text>
<text x="356.0" y="700.9" text-anchor="middle" class="tx">5</text>
<text x="428.6" y="700.9" text-anchor="middle" class="tx">9</text>
<text x="501.1" y="700.9" text-anchor="middle" class="tx">13</text>
<text x="573.7" y="700.9" text-anchor="middle" class="tx">17</text>
<text x="646.2" y="700.9" text-anchor="middle" class="tx">21</text>
<text x="718.7" y="700.9" text-anchor="middle" class="tx">25</text>
<text x="845.7" y="700.9" text-anchor="middle" class="tx bold">Aug</text>
<text x="918.2" y="700.9" text-anchor="middle" class="tx">5</text>
<text x="990.8" y="700.9" text-anchor="middle" class="tx">9</text>
<text x="1063.3" y="700.9" text-anchor="middle" class="tx">13</text>
<text x="1135.8" y="700.9" text-anchor="middle" class="tx">17</text>
<text x="1208.4" y="700.9" text-anchor="middle" class="tx">21</text>
<text x="1280.9" y="700.9" text-anchor="middle" class="tx">25</text>
<text x="1407.9" y="700.9" text-anchor="middle" class="tx bold">Sep</text>
<text x="1480.4" y="700.9" text-anchor="middle" class="tx">5</text>
<text x="12" y="21.75" style="font-size:14px;fill:#131722" textLength="390" lengthAdjust="spacingAndGlyphs">tayatatev created with TradingView.com, Sep 02, 2025 13:14 UTC</text>
<text x="20.5" y="51.3" style="font-size:13px;fill:#131722" textLength="83.5" lengthAdjust="spacingAndGlyphs">RSI (14, close)</text>
<text x="112.3" y="51.3" style="font-size:13px;fill:#7E57C2" textLength="32.5" lengthAdjust="spacingAndGlyphs">39.04</text>
<text x="152.5" y="51.3" style="font-size:13px;fill:#FDD835" textLength="32.5" lengthAdjust="spacingAndGlyphs">45.83</text>
</svg>
<svg class="logo" width="200" height="778" viewBox="0 0 200 778">
<path d="M13.75,736.25 H26.6 V752.5 H20 V742.5 H13.75 Z" fill="#111"/>
<circle cx="32.5" cy="739.5" r="3.2" fill="#111"/>
<path d="M39,736.25 H46.6 L40.6,752.5 H32.8 Z" fill="#111"/>
<g fill="none" stroke="#111" stroke-width="2.85">
<path d="M54.7,737.95 H66.4 M60.65,737.95 V752.7"/>
<path d="M68.5,752.7 V741.2 M68.5,746.3 C68.8,742.8 70.6,741.6 73.6,741.7"/>
<circle cx="80.4" cy="746.8" r="4.55"/><path d="M84.95,741.2 V752.7"/>
<circle cx="94.55" cy="746.8" r="4.55"/><path d="M99.2,736.3 V752.7"/>
<path d="M104.6,741.2 V752.7"/>
<path d="M110.2,752.7 V741.2 M110.2,746.8 C110.2,743.4 112,741.9 114.4,741.9 C116.9,741.9 118.45,743.6 118.45,746.8 V752.7"/>
<circle cx="127.7" cy="746.8" r="4.55"/><path d="M132.3,741.2 V752.6 C132.3,755.4 130.6,756.4 127.8,756.4 C125.6,756.4 124.2,755.7 123.3,754.7"/>
<path d="M153.4,741.2 V752.7"/>
<path d="M167.7,746.6 A4.4,4.4 0 1 0 166.4,749.9"/><path d="M158.6,745.9 H168.9" stroke-width="2.3"/>

</g>
<path d="M170.4,741.2 H173.3 L175.1,748.2 L177.7,741.2 H180.5 L183.0,748.2 L184.8,741.2 H187.7 L184.2,752.7 H181.6 L179.1,745.9 L176.5,752.7 H173.9 Z" fill="#111"/>
<path d="M134,736.3 H137.1 L142.05,748.4 L147.1,736.3 H150.1 L144.4,752.7 H139.7 Z" fill="#111"/>
<circle cx="104.8" cy="737.6" r="1.75" fill="#111"/><circle cx="153.5" cy="737.6" r="1.75" fill="#111"/>
</svg>
</body></html>
